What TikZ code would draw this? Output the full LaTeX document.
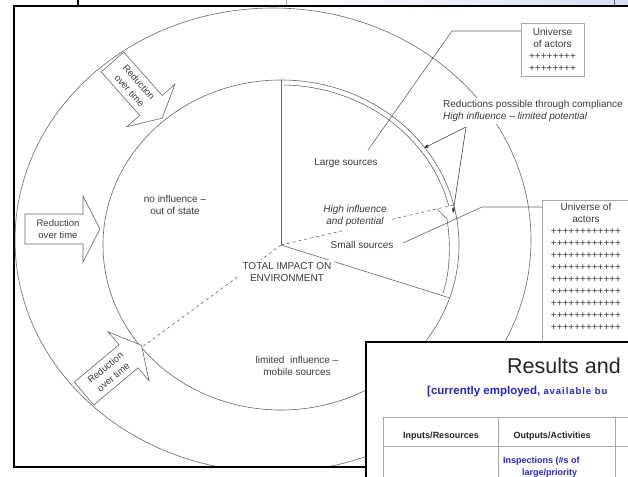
\documentclass[tikz,border=0pt]{standalone}
\usepackage{fontspec}
\setmainfont{Liberation Sans}
\usetikzlibrary{arrows.meta}
\definecolor{ln}{HTML}{666666}
\definecolor{tx}{HTML}{3A3A3A}
\definecolor{pblue}{HTML}{2626C4}
\definecolor{tgray}{HTML}{A8A8A8}
\definecolor{strip}{HTML}{D8DEF2}
\begin{document}
\begin{tikzpicture}[x=1pt,y=-1pt,
  lbl/.style={text=tx, font=\fontsize{10}{12}\selectfont, align=center, inner sep=2pt},
  arrowtext/.style={text=tx, font=\fontsize{9.5}{12.5}\selectfont, align=center, inner sep=0pt},
  wlbl/.style={lbl, fill=white},
  line/.style={draw=ln, line width=0.6pt},
  arrowbody/.style={draw=ln, fill=white, line width=0.6pt},
  actorbox/.style={draw=tgray, fill=white, line width=0.8pt},
  tipline/.style={draw=black!75, line width=0.6pt, -{Triangle[length=4.5pt,width=3.5pt]}},
  frameline/.style={draw=black, line width=1.8pt},
  tabline/.style={draw=tgray, line width=0.8pt}]
\useasboundingbox (0,0) rectangle (628,476);
\clip (0,0) rectangle (628,476);
\fill[white] (0,0) rectangle (628,476);
% top strip
\shade[left color=white, right color=strip] (287,0) rectangle (628,6);
\draw[tgray, line width=0.6pt] (286,0) -- (286,6);
\draw[black, line width=1.2pt] (78,0) -- (78,6);
\draw[black!60, line width=1pt] (614,0) -- (614,6);

\begin{scope}
\clip (14,6) rectangle (628,467);
% circles
\draw[line] (273,240) ellipse [x radius=258, y radius=232];
\draw[line] (281,245) ellipse [x radius=178, y radius=165];
% key points
\coordinate (c) at (281,245);
\coordinate (top) at (281,80);
\coordinate (pr) at (449.6,297.9);
\coordinate (pd) at (453.7,205);
\coordinate (pll) at (141.5,347.5);
% compliance band
\draw[line] plot[domain=-89:-14, samples=60] ({281+173*cos(\x)},{245+160*sin(\x)});
% small sources curve
\draw[line] (437,209) -- (447,219) .. controls (451,245) and (450,272) .. (443,293);
% sector lines
\draw[line] (c) -- (top);
\draw[line] (c) -- (pr);
\draw[line, dashed] (c) -- (pd);
\draw[line, dashed] (c) -- (pll);
% arrows from compliance label
\coordinate (rsrc) at (466,127);
\coordinate (tipA) at (424,148);
\coordinate (tipB) at (453,213);
\draw[tipline] (rsrc) -- (tipA);
\draw[tipline] (rsrc) -- (tipB);
% leader lines
\coordinate (l1a) at (521,31);
\coordinate (l1b) at (452,31);
\coordinate (l1c) at (368,150);
\draw[line] (l1a) -- (l1b) -- (l1c);
\coordinate (l2a) at (542,207);
\coordinate (l2b) at (482,207);
\coordinate (l2c) at (403,243);
\draw[line] (l2a) -- (l2b) -- (l2c);
% labels
\node[lbl] (noinf) at (175,205) {no influence –\\out of state};
\node[lbl] (limit) at (297,366) {limited\ \ influence –\\mobile sources};
\node[wlbl, inner sep=2.5pt] (total) at (287,272) {TOTAL IMPACT ON\\ENVIRONMENT};
\node[wlbl, inner sep=3.5pt, font=\fontsize{10}{12}\selectfont\itshape] (hip) at (355,216) {High influence\\and potential};
\node[lbl] (large) at (346,163) {Large sources};
\node[lbl] (small) at (362,245) {Small sources};
\node[wlbl, align=left, anchor=west] (redu) at (441,111) {Reductions possible through compliance\\\textit{High influence – limited potential}};
% reduction arrows
\begin{scope}[shift={(112.5,62)}, rotate=-48.5]
  \draw[arrowbody] (0,-15) -- (58,-15) -- (58,-32) -- (75,0) -- (58,32) -- (58,15) -- (0,15) -- cycle;
  \node[arrowtext, rotate=-48.5] (ra1) at (33,0) {Reduction\\over time};
\end{scope}
\begin{scope}[shift={(25,229)}]
  \draw[arrowbody] (0,-15) -- (58,-15) -- (58,-33) -- (75,0) -- (58,33) -- (58,15) -- (0,15) -- cycle;
  \node[arrowtext] (ra2) at (33,0) {Reduction\\over time};
\end{scope}
\begin{scope}[shift={(84,393.5)}, rotate=39.9]
  \draw[arrowbody] (0,-15) -- (58,-15) -- (58,-32) -- (75,0) -- (58,32) -- (58,15) -- (0,15) -- cycle;
  \node[arrowtext, rotate=39.9] (ra3) at (33,0) {Reduction\\over time};
\end{scope}
% universe boxes
\node[actorbox, lbl, minimum width=63pt, minimum height=53pt, inner sep=1pt] (u1) at (552.5,49.5) {Universe\\of actors\\++++++++\\++++++++};
\draw[actorbox] (542,200) rectangle (660,380);
\node[lbl, anchor=north, inner sep=0pt] (u2) at (586,203) {Universe of\\actors\\++++++++++++\\++++++++++++\\++++++++++++\\++++++++++++\\++++++++++++\\++++++++++++\\++++++++++++\\++++++++++++\\++++++++++++};
\end{scope}
% main frame
\draw[frameline] (14,6) rectangle (660,467);
% results panel
\draw[frameline, fill=white] (366,342) rectangle (660,500);
\node[anchor=west, inner sep=0pt, text=black!85, font=\fontsize{21.5}{24}\selectfont] (res) at (507,366) {Results and};
\node[anchor=west, inner sep=0pt, text=pblue, font=\fontsize{11.5}{13}\selectfont\bfseries] (cur) at (427,392) {[currently employed, {\fontsize{9.5}{11}\selectfont\addfontfeature{LetterSpace=10}available bu}};
\draw[tabline] (383,417) -- (660,417);
\draw[tabline] (383,446) -- (660,446);
\draw[tabline] (383,417) -- (383,490);
\draw[tabline] (498,417) -- (498,490);
\draw[tabline] (615,417) -- (615,490);
\node[inner sep=0pt, text=black!85, font=\fontsize{9}{11}\selectfont\bfseries] (h1) at (441,436) {Inputs/Resources};
\node[inner sep=0pt, text=black!85, font=\fontsize{9}{11}\selectfont\bfseries] (h2) at (552,436) {Outputs/Activities};
\node[anchor=west, inner sep=0pt, text=pblue, font=\fontsize{9}{11}\selectfont\bfseries] (r1) at (503,461) {Inspections (\#s of};
\node[anchor=west, inner sep=0pt, text=pblue, font=\fontsize{9}{11}\selectfont\bfseries] (r2) at (522,473) {large/priority};
\end{tikzpicture}
\end{document}
